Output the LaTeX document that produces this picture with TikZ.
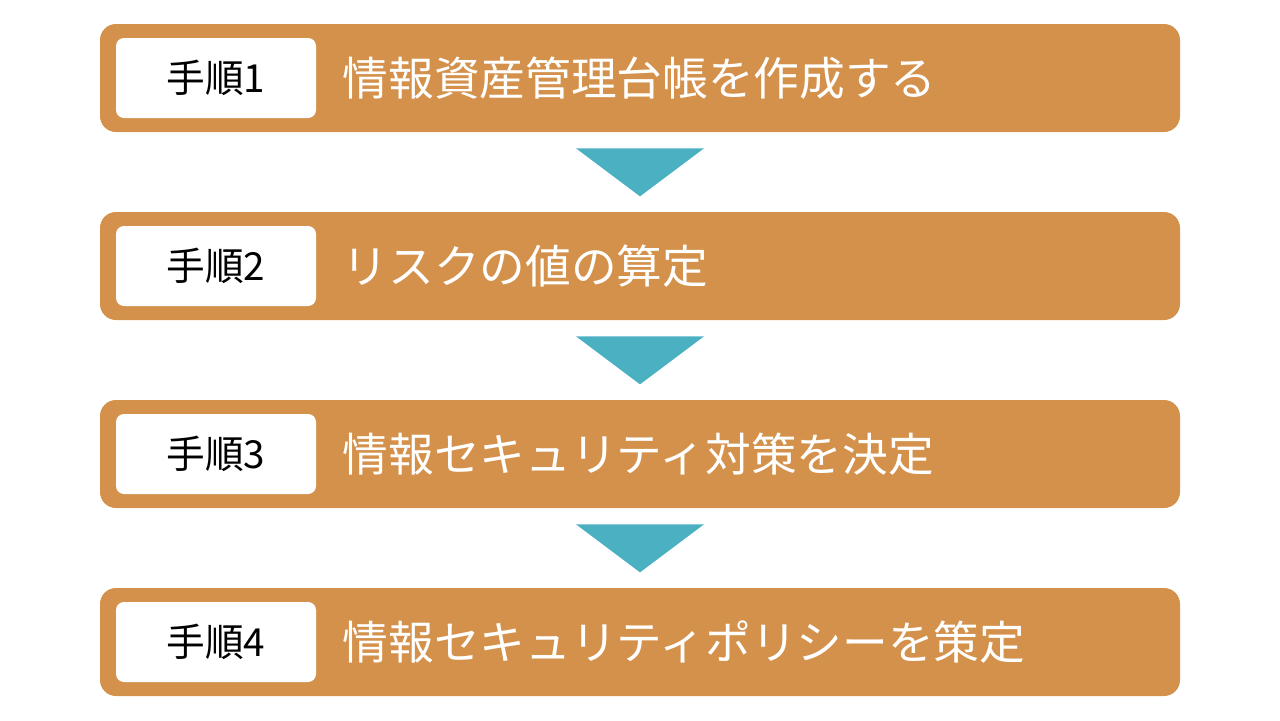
\documentclass[tikz,border=0pt]{standalone}
\usepackage{fontspec}
\setmainfont{Noto Sans CJK JP}
\usetikzlibrary{positioning, shapes.geometric, calc}
\definecolor{barorange}{HTML}{D4914B}
\definecolor{arrowteal}{HTML}{4BB1C2}
\tikzset{
  stepbar/.style={draw=none, fill=barorange, rounded corners=0.32cm, minimum width=21.6cm, minimum height=2.16cm},
  steplabel/.style={fill=white, rounded corners=0.16cm, minimum width=4cm, minimum height=1.6cm, font=\fontsize{22}{26}\selectfont, text=black},
  steptext/.style={text=white, anchor=west, font=\fontsize{26}{30}\selectfont, inner sep=0},
  down/.style={fill=arrowteal, draw=none}
}
\begin{document}
\begin{tikzpicture}
  \useasboundingbox (0,0) rectangle (25.6,-14.4);
  \foreach \i/\txt in {1/情報資産管理台帳を作成する, 2/リスクの値の算定, 3/情報セキュリティ対策を決定, 4/情報セキュリティポリシーを策定} {
    \node[stepbar] (bar\i) at (12.8,{-1.56-3.76*(\i-1)}) {};
    \node[steplabel, right=0.32cm of bar\i.west] (label\i) {手順\i};
    \node[steptext, right=0.52cm of label\i.east] (text\i) {\txt};
  }
  % arrows between the steps
  \foreach \i in {1,2,3} {
    \fill[down] ($(bar\i.south)+(-1.28,-0.32)$) -- ($(bar\i.south)+(1.28,-0.32)$) -- ($(bar\i.south)+(0,-1.28)$) -- cycle;
  }
\end{tikzpicture}
\end{document}
